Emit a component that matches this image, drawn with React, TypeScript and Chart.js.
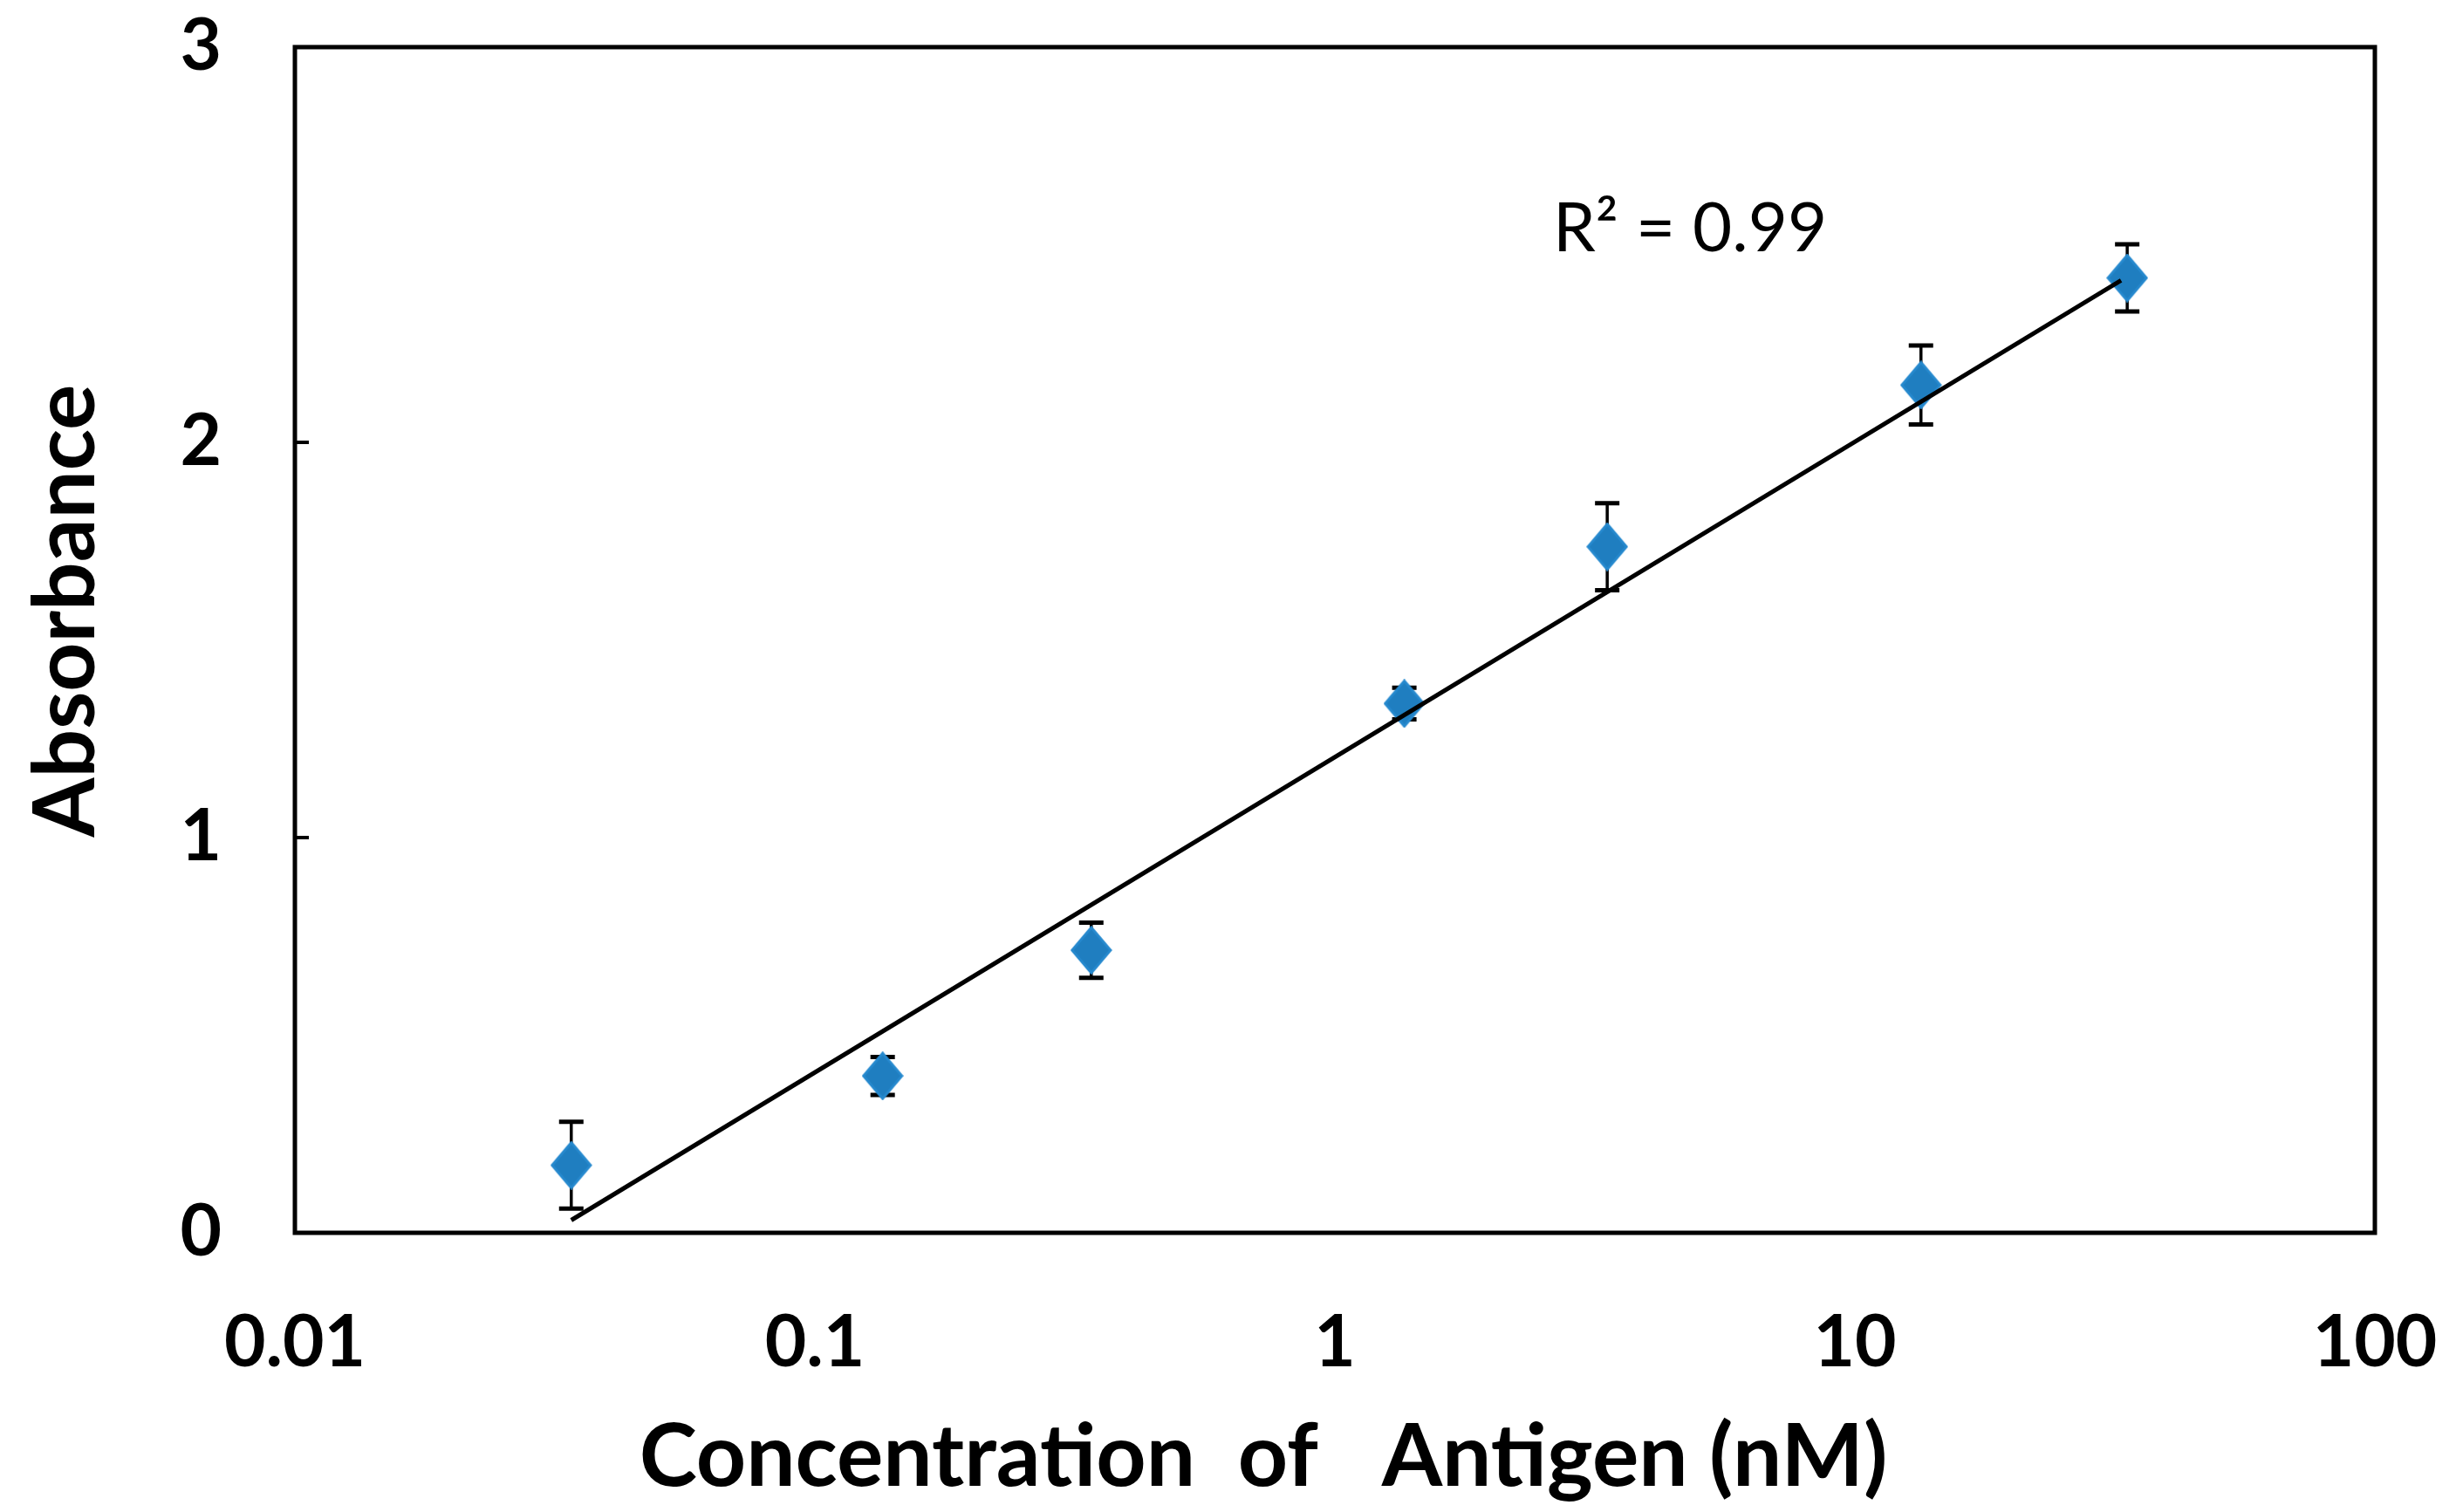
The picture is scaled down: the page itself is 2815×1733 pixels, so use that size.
import React, { useEffect, useRef } from "react";
import { Chart, registerables } from "chart.js";

Chart.register(...registerables);

// ---- data ----
const concentrations = [0.034, 0.135, 0.34, 1.36, 3.34, 13.4, 33.4];
const absorbance = [0.171, 0.397, 0.715, 1.339, 1.736, 2.145, 2.416];
const errors = [0.11, 0.048, 0.07, 0.04, 0.11, 0.1, 0.085];
const trendX = [0.034, 32.5];
const trendY = [0.032, 2.41];
const xTicks = [0.01, 0.1, 1, 10, 100];
const yTicks = [0, 1, 2, 3];
const xTitle = "Concentration  of   Antigen (nM)";
const yTitle = "Absorbance";
const annotation = "R\u00B2 = 0.99";

const W = 2815;
const H = 1733;
const FONT = "Lato, 'Open Sans', sans-serif";

function makeDiamond(): HTMLCanvasElement {
  const c = document.createElement("canvas");
  const w = 48;
  const h = 56;
  c.width = w;
  c.height = h;
  const g = c.getContext("2d")!;
  g.beginPath();
  g.moveTo(w / 2, 2);
  g.lineTo(w - 2, h / 2);
  g.lineTo(w / 2, h - 2);
  g.lineTo(2, h / 2);
  g.closePath();
  g.fillStyle = "#1F7EC0";
  g.fill();
  g.lineWidth = 3;
  g.strokeStyle = "#2689CE";
  g.stroke();
  return c;
}

const decorPlugin = {
  id: "decor",
  beforeDatasetsDraw(chart: any) {
    const { ctx, scales } = chart;
    const x = scales.x;
    const y = scales.y;
    ctx.save();
    ctx.strokeStyle = "#000";
    concentrations.forEach((c, i) => {
      const px = x.getPixelForValue(c);
      const top = y.getPixelForValue(absorbance[i] + errors[i]);
      const bot = y.getPixelForValue(absorbance[i] - errors[i]);
      ctx.lineWidth = 3.5;
      ctx.beginPath();
      ctx.moveTo(px, top);
      ctx.lineTo(px, bot);
      ctx.stroke();
      ctx.lineWidth = 5;
      ctx.beginPath();
      ctx.moveTo(px - 14, top);
      ctx.lineTo(px + 14, top);
      ctx.moveTo(px - 14, bot);
      ctx.lineTo(px + 14, bot);
      ctx.stroke();
    });
    ctx.restore();
  },
  afterDraw(chart: any) {
    const { ctx, chartArea: a, scales } = chart;
    const y = scales.y;
    ctx.save();
    // frame
    ctx.strokeStyle = "#000";
    ctx.lineWidth = 5;
    ctx.strokeRect(a.left, a.top, a.right - a.left, a.bottom - a.top);
    // inner y tick marks
    ctx.lineWidth = 4;
    yTicks.forEach((v) => {
      const py = y.getPixelForValue(v);
      ctx.beginPath();
      ctx.moveTo(a.left, py);
      ctx.lineTo(a.left + 16, py);
      ctx.stroke();
    });
    // axis titles
    ctx.fillStyle = "#000";
    ctx.font = `bold 100px ${FONT}`;
    ctx.textAlign = "center";
    ctx.textBaseline = "alphabetic";
    ctx.fillText(xTitle, a.left + 1110, 1703);
    ctx.save();
    ctx.translate(108, 700);
    ctx.rotate(-Math.PI / 2);
    ctx.font = `bold 98px ${FONT}`;
    ctx.fillText(yTitle, 0, 0);
    ctx.restore();
    // annotation
    ctx.font = `normal 78px ${FONT}`;
    ctx.textAlign = "left";
    ctx.fillText(annotation, 1780, 288);
    ctx.restore();
  },
};

export default function App() {
  const ref = useRef<HTMLCanvasElement | null>(null);
  useEffect(() => {
    if (!ref.current) return;
    const diamond = makeDiamond();
    const chart = new Chart(ref.current, {
      type: "scatter",
      data: {
        datasets: [
          {
            type: "line",
            label: "trend",
            data: trendX.map((v, i) => ({ x: v, y: trendY[i] })),
            borderColor: "#000",
            borderWidth: 5,
            pointRadius: 0,
            fill: false,
            order: 0,
          } as any,
          {
            type: "scatter",
            label: "Absorbance",
            data: concentrations.map((v, i) => ({ x: v, y: absorbance[i] })),
            pointStyle: diamond,
            pointRadius: 24,
            backgroundColor: "#1F7EC0",
            borderColor: "#2588CC",
            borderWidth: 0,
            order: 1,
          },
        ],
      },
      options: {
        responsive: false,
        animation: false,
        devicePixelRatio: 1,
        layout: { padding: { left: 0, right: 93, top: 54, bottom: 0 } },
        plugins: { legend: { display: false }, tooltip: { enabled: false } },
        scales: {
          x: {
            type: "logarithmic",
            min: 0.01,
            max: 100,
            grid: { display: false, drawTicks: false },
            border: { display: false },
            afterBuildTicks: (s: any) => {
              s.ticks = xTicks.map((v) => ({ value: v }));
            },
            afterFit: (s: any) => {
              s.height = 320;
              s.paddingLeft = 0;
              s.paddingRight = 0;
              s.paddingTop = 0;
              s.paddingBottom = 0;
            },
            ticks: {
              autoSkip: false,
              maxRotation: 0,
              padding: 77,
              color: "#000",
              font: { family: FONT, weight: "bold", size: 82 },
              callback: (v: any) => String(v),
            },
          },
          y: {
            type: "linear",
            min: 0,
            max: 3,
            grid: { display: false, drawTicks: false },
            border: { display: false },
            afterBuildTicks: (s: any) => {
              s.ticks = yTicks.map((v) => ({ value: v }));
            },
            afterFit: (s: any) => {
              s.width = 338;
              s.paddingLeft = 0;
              s.paddingRight = 0;
              s.paddingTop = 0;
              s.paddingBottom = 0;
            },
            ticks: {
              padding: 84,
              color: "#000",
              font: { family: FONT, weight: "bold", size: 82 },
              callback: (v: any) => String(v),
            },
          },
        },
      },
      plugins: [decorPlugin],
    });
    return () => chart.destroy();
  }, []);
  return (
    <div style={{ position: "absolute", left: 0, top: 0, width: W, height: H, background: "#fff" }}>
      <canvas ref={ref} width={W} height={H} style={{ width: W, height: H, display: "block" }} />
    </div>
  );
}
